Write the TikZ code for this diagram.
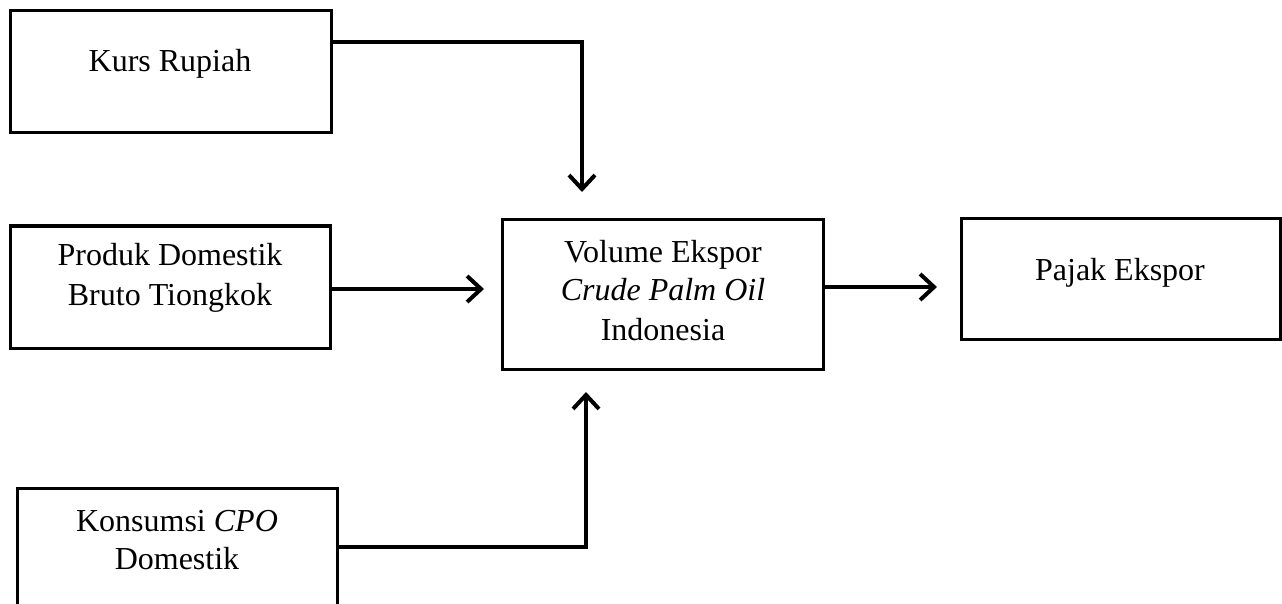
\documentclass[tikz,border=0pt]{standalone}
\usepackage{fontspec}
\setmainfont{Liberation Serif}
\usetikzlibrary{arrows.meta}
\begin{document}
\begin{tikzpicture}[x=1pt,y=-1pt,
  box/.style={draw=black, line width=3pt, rectangle, inner sep=0pt},
  txt/.style={font=\fontsize{32}{38}\selectfont, align=center, anchor=base, inner sep=0pt},
  arr/.style={line width=4pt, -{Straight Barb[length=14pt,width=26pt,line width=4pt]}},
  conn/.style={line width=4pt}]
\useasboundingbox (0,0) rectangle (1282,604);
\clip (0,0) rectangle (1282,604);
% boxes
\node[box, minimum width=321pt, minimum height=122pt] (kurs) at (170.5,71.5) {};
\node[box, minimum width=320pt, minimum height=122pt] (pdb) at (170,287) {};
\node[box, minimum width=321pt, minimum height=149pt] (vol) at (662.5,294.5) {};
\node[box, minimum width=319pt, minimum height=120pt] (pajak) at (1120.5,279) {};
\node[box, minimum width=320pt, minimum height=140pt] (kons) at (177,558) {};
% texts
\node[txt] (tkurs) at (170,72) {Kurs Rupiah};
\node[txt] (tpdb1) at (170,265) {Produk Domestik};
\node[txt] (tpdb2) at (170,305) {Bruto Tiongkok};
\node[txt] (tvol1) at (663,262) {Volume Ekspor};
\node[txt] (tvol2) at (663,300) {\itshape Crude Palm Oil};
\node[txt] (tvol3) at (663,340) {Indonesia};
\node[txt] (tpajak) at (1120,280) {Pajak Ekspor};
\node[txt] (tkons1) at (177,531) {Konsumsi \textit{CPO}};
\node[txt] (tkons2) at (177,569) {Domestik};
% connector points
\coordinate (k1) at (582,42);
\coordinate (k2) at (582,192);
\coordinate (p1) at (484,289);
\coordinate (v1) at (937,287);
\coordinate (c1) at (586,547);
\coordinate (c2) at (586,392);
% connectors
\draw[arr] (kurs.east |- k1) -- (k1) -- (k2);
\draw[arr] (pdb.east |- p1) -- (p1);
\draw[arr] (vol.east |- v1) -- (v1);
\draw[arr] (kons.east |- c1) -- (c1) -- (c2);
\end{tikzpicture}
\end{document}
